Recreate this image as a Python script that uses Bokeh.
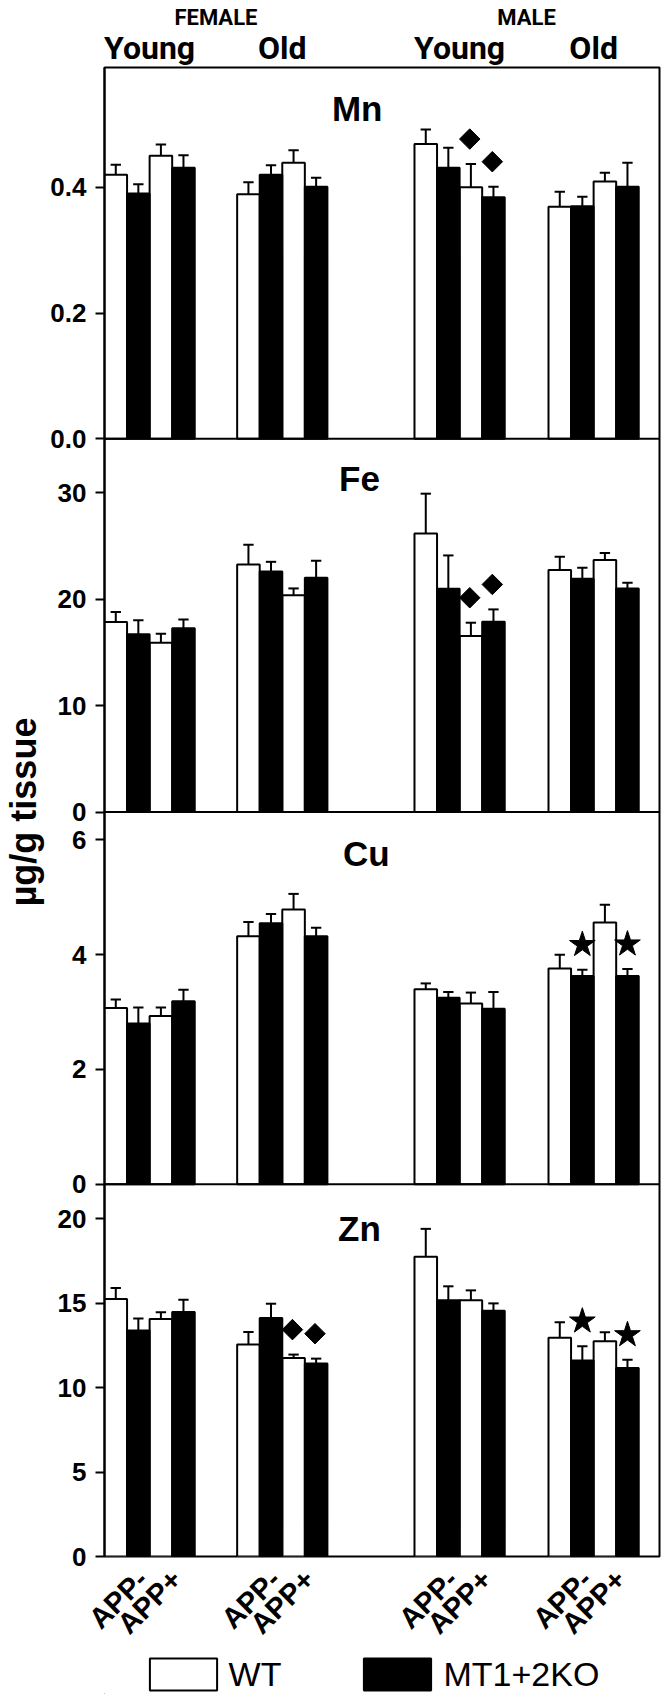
import math
from bokeh.plotting import figure
from bokeh.layouts import column
from bokeh.models import (Range1d, FixedTicker, Label, ColumnDataSource, LinearAxis, Span,
                          Legend, LegendItem)
from bokeh.embed import file_html
from bokeh.resources import INLINE

# ---------------- data ----------------
sexes = ["FEMALE", "MALE"]
ages = ["Young", "Old", "Young", "Old"]
app_labels = ["APP-", "APP+"]
genotypes = ["WT", "MT1+2KO"]
elements = ["Mn", "Fe", "Cu", "Zn"]

# order of values: F-Young APP-, F-Young APP+, F-Old APP-, F-Old APP+,
#                  M-Young APP-, M-Young APP+, M-Old APP-, M-Old APP+
mn_wt_mean = [0.420, 0.450, 0.389, 0.439, 0.469, 0.400, 0.369, 0.409]
mn_wt_sem = [0.016, 0.018, 0.019, 0.020, 0.023, 0.037, 0.024, 0.014]
mn_ko_mean = [0.390, 0.431, 0.420, 0.401, 0.431, 0.384, 0.370, 0.401]
mn_ko_sem = [0.015, 0.020, 0.015, 0.014, 0.032, 0.017, 0.015, 0.038]

fe_wt_mean = [17.84, 15.90, 23.25, 20.35, 26.15, 16.53, 22.72, 23.66]
fe_wt_sem = [0.94, 0.85, 1.85, 0.65, 3.75, 1.25, 1.25, 0.68]
fe_ko_mean = [16.69, 17.25, 22.60, 22.00, 20.97, 17.87, 21.90, 21.00]
fe_ko_sem = [1.31, 0.84, 0.90, 1.60, 3.13, 1.16, 1.04, 0.53]

cu_wt_mean = [3.07, 2.93, 4.32, 4.79, 3.40, 3.15, 3.76, 4.56]
cu_wt_sem = [0.15, 0.15, 0.25, 0.27, 0.10, 0.19, 0.24, 0.31]
cu_ko_mean = [2.80, 3.19, 4.55, 4.32, 3.25, 3.06, 3.63, 3.63]
cu_ko_sem = [0.28, 0.20, 0.16, 0.15, 0.10, 0.29, 0.11, 0.12]

zn_wt_mean = [15.24, 14.06, 12.54, 11.75, 17.74, 15.16, 12.94, 12.74]
zn_wt_sem = [0.65, 0.39, 0.75, 0.20, 1.65, 0.59, 0.92, 0.53]
zn_ko_mean = [13.37, 14.47, 14.12, 11.42, 15.16, 14.55, 11.60, 11.16]
zn_ko_sem = [0.71, 0.73, 0.84, 0.29, 0.83, 0.43, 0.85, 0.48]

mn_ticks = [0.0, 0.2, 0.4]
mn_tick_labels = ["0.0", "0.2", "0.4"]
fe_ticks = [0, 10, 20, 30]
fe_tick_labels = ["0", "10", "20", "30"]
cu_ticks = [0, 2, 4, 6]
cu_tick_labels = ["0", "2", "4", "6"]
zn_ticks = [0, 5, 10, 15, 20]
zn_tick_labels = ["0", "5", "10", "15", "20"]

# significance symbols: (value index, genotype, symbol)
mn_marks = [(5, "WT", "diamond"), (5, "MT1+2KO", "diamond")]
fe_marks = [(5, "WT", "diamond"), (5, "MT1+2KO", "diamond")]
cu_marks = [(6, "MT1+2KO", "star"), (7, "MT1+2KO", "star")]
zn_marks = [(3, "WT", "diamond"), (3, "MT1+2KO", "diamond"),
            (6, "MT1+2KO", "star"), (7, "MT1+2KO", "star")]

y_title = "\u00b5g/g tissue"

# ---------------- layout ----------------
HEAD = "Roboto"
SANS = "Liberation Sans"
LEFT, TOP, BOTTOM = 101, 67, 95
FRAME_W, FRAME_H = 558, 1492
X_END = 24.6
PXU = FRAME_W / X_END
group_starts = [0.0, 5.88, 13.74, 19.68]
MAIN_H = TOP + FRAME_H + BOTTOM
STRIP_H = 1694 - MAIN_H

panels = {
    "Mn": dict(wt=(mn_wt_mean, mn_wt_sem), ko=(mn_ko_mean, mn_ko_sem), top=0.5905,
               px=(1120, 1492), ticks=mn_ticks, labels=mn_tick_labels, marks=mn_marks, tx=11.2, toff=41),
    "Fe": dict(wt=(fe_wt_mean, fe_wt_sem), ko=(fe_ko_mean, fe_ko_sem), top=35.06,
               px=(746, 1120), ticks=fe_ticks, labels=fe_tick_labels, marks=fe_marks, tx=11.3, toff=40),
    "Cu": dict(wt=(cu_wt_mean, cu_wt_sem), ko=(cu_ko_mean, cu_ko_sem), top=6.487,
               px=(373, 746), ticks=cu_ticks, labels=cu_tick_labels, marks=cu_marks, tx=11.6, toff=42),
    "Zn": dict(wt=(zn_wt_mean, zn_wt_sem), ko=(zn_ko_mean, zn_ko_sem), top=22.03,
               px=(0, 373), ticks=zn_ticks, labels=zn_tick_labels, marks=zn_marks, tx=11.3, toff=44),
}

p = figure(width=661, height=MAIN_H, x_range=Range1d(0, X_END), y_range=Range1d(0, FRAME_H),
           output_backend="svg", toolbar_location=None, x_axis_location=None,
           min_border_left=LEFT, min_border_right=661 - LEFT - FRAME_W, min_border_top=TOP,
           min_border_bottom=BOTTOM)
p.grid.visible = False
p.outline_line_color = "black"
p.outline_line_width = 2
p.background_fill_color = "white"
p.border_fill_color = "white"


def bar_x(i, geno):
    g, a = divmod(i, 2)
    return group_starts[g] + 2 * a + (0.5 if geno == "WT" else 1.5)


all_ticks, overrides = [], {}
cap = 5.2 / PXU
for name in elements:
    cfg = panels[name]
    b, t = cfg["px"]
    xy = p.subplot(x_source=p.x_range, y_source=Range1d(0, cfg["top"]),
                   x_target=p.x_range, y_target=Range1d(b, t))
    ppu = (t - b) / cfg["top"]
    tops = {}
    for geno, key, fill in (("WT", "wt", "white"), ("MT1+2KO", "ko", "black")):
        mean, sem = cfg[key]
        xs = [bar_x(i, geno) for i in range(len(mean))]
        ups = [m + s for m, s in zip(mean, sem)]
        tops[geno] = ups
        src = ColumnDataSource(dict(x=xs, top=mean, up=ups,
                                    xl=[x - cap for x in xs], xr=[x + cap for x in xs]))
        xy.segment(x0="x", y0="top", x1="x", y1="up", source=src, line_color="black", line_width=2)
        xy.segment(x0="xl", y0="up", x1="xr", y1="up", source=src, line_color="black", line_width=2)
        xy.vbar(x="x", top="top", bottom=0, width=1.0, source=src, fill_color=fill,
                line_color="black", line_width=2)
    for i, geno, sym in cfg["marks"]:
        yv = tops[geno][i] + 25 / ppu
        if sym == "diamond":
            xy.scatter(x=[bar_x(i, geno) - 0.05], y=[yv], marker="square", angle=math.pi / 4,
                       size=14.5, fill_color="black", line_color="black")
        else:
            xy.scatter(x=[bar_x(i, geno)], y=[yv], marker="star", size=27,
                       fill_color="black", line_color="black")
    for tv, tl in zip(cfg["ticks"], cfg["labels"]):
        pos = round(b + tv * ppu, 3)
        all_ticks.append(pos)
        overrides[pos] = tl
    p.add_layout(Label(x=cfg["tx"], y=t - cfg["toff"], text=name, text_align="center",
                       text_baseline="alphabetic", text_font=SANS, text_font_style="bold",
                       text_font_size="35px", text_color="black"))
    if b > 0:
        p.add_layout(Span(location=b, dimension="width", line_color="black", line_width=2))

# ---- y axis ----
ax = p.yaxis[0]
ax.ticker = FixedTicker(ticks=all_ticks)
ax.major_label_overrides = overrides
ax.axis_line_width = 2
ax.axis_line_color = "black"
ax.major_tick_line_width = 2
ax.major_tick_out = 9
ax.major_tick_in = 0
ax.minor_tick_line_color = None
ax.major_label_standoff = 9
ax.major_label_text_font = SANS
ax.major_label_text_font_style = "bold"
ax.major_label_text_font_size = "26px"
ax.major_label_text_color = "black"
ax.axis_label = y_title
ax.axis_label_standoff = 3
ax.axis_label_text_font = SANS
ax.axis_label_text_font_style = "bold"
ax.axis_label_text_font_size = "36px"
ax.axis_label_text_color = "black"


def text_axis(ticks, labels, font, size, standoff, orientation="horizontal"):
    return LinearAxis(ticker=FixedTicker(ticks=ticks),
                      major_label_overrides=dict(zip(ticks, labels)),
                      axis_line_color=None, major_tick_line_color=None, minor_tick_line_color=None,
                      major_tick_out=0, major_tick_in=0, minor_tick_out=0, minor_tick_in=0,
                      major_label_standoff=standoff, major_label_orientation=orientation,
                      major_label_text_font=font, major_label_text_font_style="bold",
                      major_label_text_font_size=size, major_label_text_color="black")


# ---- header: age groups and sexes ----
centers = [gs + 2.0 for gs in group_starts]
sex_centers = [(centers[0] + centers[1]) / 2, (centers[2] + centers[3]) / 2]
p.add_layout(text_axis(centers, ages, HEAD, "32px", 1), "above")
p.add_layout(text_axis(sex_centers, sexes, HEAD, "22px", -4), "above")

# ---- bottom axis: APP labels ----
app_ticks, app_text = [], []
for gs in group_starts:
    app_ticks += [round(gs + 1.7, 3), round(gs + 3.2, 3)]
    app_text += app_labels
p.add_layout(text_axis(app_ticks, app_text, SANS, "29px", 18, math.pi / 4), "below")

# ---- legend strip (its frame is aligned with the panels' frame) ----
strip = figure(width=661, height=STRIP_H, x_range=Range1d(0, X_END), y_range=Range1d(0, 1),
               output_backend="svg", toolbar_location=None, x_axis_location=None,
               y_axis_location=None, min_border=0)
strip.grid.visible = False
strip.outline_line_color = None
strip.background_fill_color = "white"
strip.border_fill_color = "white"

items = []
for geno, fill in zip(genotypes, ["white", "black"]):
    # zero-height bar outside the visible range: only supplies the legend key style
    r = strip.vbar(x=[-100], top=[0], width=1.0, fill_color=fill, line_color="black", line_width=2)
    items.append(LegendItem(label=geno, renderers=[r]))
legend = Legend(items=items, orientation="horizontal", location=(36.6, 0),
                glyph_width=84, glyph_height=STRIP_H, label_standoff=4, spacing=74,
                padding=0, margin=0, border_line_alpha=0, background_fill_alpha=0,
                label_text_font=SANS, label_text_font_size="34px", label_text_color="black",
                label_text_baseline="middle")
strip.add_layout(legend)

layout = column(p, strip, spacing=0)
open("out.html", "w").write(file_html(layout, INLINE))
